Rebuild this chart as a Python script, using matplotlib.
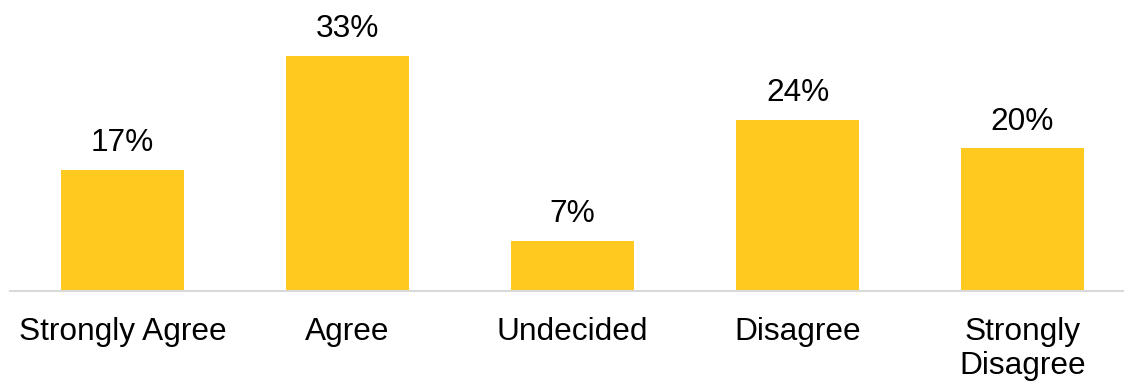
import matplotlib
matplotlib.use("Agg")
import matplotlib.pyplot as plt

categories = ["Strongly Agree", "Agree", "Undecided", "Disagree", "Strongly\nDisagree"]
values = [17, 33, 7, 24, 20]
value_labels = ["17%", "33%", "7%", "24%", "20%"]

plt.rcParams["font.family"] = ["Liberation Sans", "DejaVu Sans"]

W, H = 1124, 381
fig = plt.figure(figsize=(W / 100, H / 100), dpi=100)

base_px = 290.5
px_per_unit = 7.1
ymax = 40
left_px = 10
slot_px = 225
ax = fig.add_axes([left_px / W, (H - base_px) / H,
                   slot_px * len(categories) / W, px_per_unit * ymax / H])

x = range(len(categories))
bars = ax.bar(x, values, width=0.547, color="#FFC91F", zorder=2)
ax.bar_label(bars, labels=value_labels, padding=8.5, fontsize=22.8, color="#000000")

ax.set_xlim(-0.5, len(categories) - 0.5)
ax.set_ylim(0, ymax)
ax.set_xticks(list(x))
ax.set_xticklabels(categories, fontsize=22.8, linespacing=1.18)
ax.tick_params(axis="x", length=0, pad=19)
ax.set_yticks([])
for s in ["top", "left", "right"]:
    ax.spines[s].set_visible(False)
ax.spines["bottom"].set_color("#D9D9D9")
ax.spines["bottom"].set_linewidth(1.5)
ax.spines["bottom"].set_zorder(3)

fig.savefig("out.png", dpi=100)
